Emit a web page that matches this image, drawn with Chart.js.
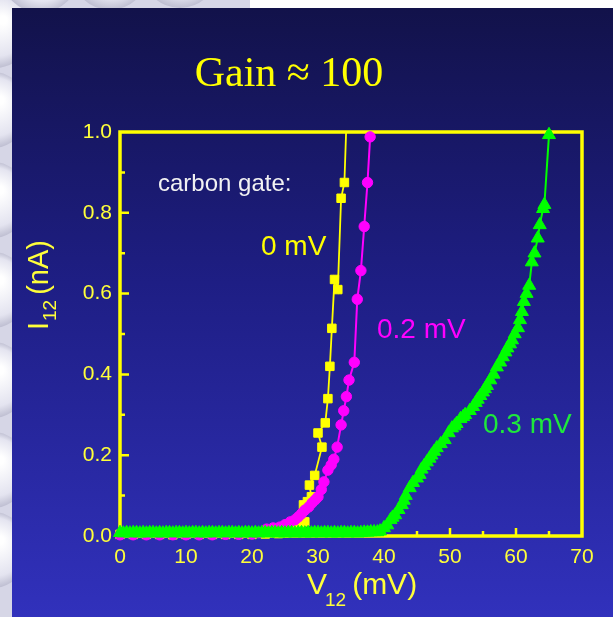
<!DOCTYPE html>
<html>
<head>
<meta charset="utf-8">
<script src="https://cdn.jsdelivr.net/npm/chart.js@4.4.0/dist/chart.umd.min.js"></script>
<style>
body { margin: 0; background: #fff; }
canvas { display: block; }
</style>
</head>
<body>
<canvas id="mycanvas" width="613" height="617"></canvas>
<script>
// tick labels
var xTicks = [0, 10, 20, 30, 40, 50, 60, 70];
var yTicks = [0.0, 0.2, 0.4, 0.6, 0.8, 1.0];
var seriesNames = ['0 mV', '0.2 mV', '0.3 mV'];

// 0 mV (yellow squares)
var v0X = [0, 2, 4, 6, 8, 10, 12, 14, 16, 18, 20, 22, 24, 25, 26, 26.8, 27.4, 28.0, 27.8, 28.4, 29.0, 28.7, 29.5, 30.6, 30.0, 31.1, 31.5, 31.8, 32.1, 32.5, 33.0, 33.5, 34.0, 34.3];
var v0Y = [0.004, 0.004, 0.004, 0.004, 0.003, 0.004, 0.004, 0.004, 0.004, 0.004, 0.004, 0.005, 0.006, 0.008, 0.010, 0.017, 0.024, 0.035, 0.077, 0.085, 0.097, 0.126, 0.150, 0.220, 0.255, 0.280, 0.340, 0.420, 0.514, 0.635, 0.610, 0.836, 0.875, 1.02];

// 0.2 mV (magenta circles)
var v02X = [0, 2, 4, 6, 8, 10, 12, 14, 16, 18, 20, 21, 22.2, 23.2, 24.2, 25.0, 25.8, 26.5, 27.0, 27.5, 28.0, 28.6, 29.1, 29.6, 30.0, 30.5, 30.9, 31.5, 32.0, 32.4, 32.9, 33.5, 33.9, 34.3, 34.7, 35.5, 35.95, 36.5, 37.0, 37.5, 37.9];
var v02Y = [0.003, 0.003, 0.003, 0.003, 0.003, 0.003, 0.003, 0.003, 0.004, 0.004, 0.005, 0.008, 0.017, 0.020, 0.022, 0.028, 0.035, 0.040, 0.047, 0.055, 0.064, 0.072, 0.082, 0.090, 0.097, 0.115, 0.134, 0.163, 0.176, 0.190, 0.220, 0.275, 0.310, 0.345, 0.386, 0.430, 0.586, 0.657, 0.766, 0.875, 0.988];

// 0.3 mV (green triangles)
var v03X = [0, 0.5, 1, 1.5, 2, 2.5, 3, 3.5, 4, 4.5, 5, 5.5, 6, 6.5, 7, 7.5, 8, 8.5, 9, 9.5, 10, 10.5, 11, 11.5, 12, 12.5, 13, 13.5, 14, 14.5, 15, 15.5, 16, 16.5, 17, 17.5, 18, 18.5, 19, 19.5, 20, 20.5, 21, 21.5, 22, 22.5, 23, 23.5, 24, 24.5, 25, 25.5, 26, 26.5, 27, 27.5, 28, 28.5, 29, 29.5, 30, 30.5, 31, 31.5, 32, 32.5, 33, 33.5, 34, 34.5, 35, 35.5, 36, 36.5, 37, 37.5, 38, 38.5, 39.0, 39.4, 40.0, 40.5, 41.0, 41.3, 41.7, 42.2, 42.7, 43.0, 43.3, 43.9, 44.4, 45.0, 45.4, 45.7, 46.1, 46.5, 46.9, 47.2, 47.6, 48.0, 48.6, 49.2, 49.8, 50.3, 50.7, 51.0, 51.6, 52.0, 52.3, 53.0, 53.5, 53.9, 54.2, 54.6, 55.0, 55.3, 55.6, 56.1, 56.6, 57.1, 57.6, 58.0, 58.4, 58.7, 59.1, 59.4, 59.8, 60.3, 60.6, 60.9, 61.2, 61.6, 62.0, 62.4, 62.8, 63.3, 63.6, 64.1, 64.3, 65.0];
var v03Y = [0.008, 0.007, 0.008, 0.007, 0.008, 0.008, 0.007, 0.008, 0.007, 0.008, 0.008, 0.007, 0.008, 0.007, 0.008, 0.008, 0.007, 0.008, 0.008, 0.007, 0.008, 0.007, 0.008, 0.008, 0.007, 0.008, 0.007, 0.008, 0.008, 0.007, 0.008, 0.008, 0.007, 0.008, 0.008, 0.007, 0.008, 0.007, 0.008, 0.008, 0.007, 0.008, 0.007, 0.008, 0.008, 0.007, 0.008, 0.008, 0.007, 0.008, 0.007, 0.008, 0.008, 0.007, 0.008, 0.008, 0.007, 0.008, 0.007, 0.008, 0.008, 0.007, 0.008, 0.008, 0.007, 0.008, 0.007, 0.008, 0.008, 0.007, 0.008, 0.008, 0.007, 0.008, 0.009, 0.009, 0.010, 0.010, 0.010, 0.012, 0.020, 0.027, 0.040, 0.046, 0.052, 0.065, 0.077, 0.088, 0.100, 0.119, 0.132, 0.143, 0.152, 0.165, 0.174, 0.183, 0.192, 0.200, 0.209, 0.218, 0.228, 0.238, 0.255, 0.267, 0.272, 0.278, 0.290, 0.295, 0.300, 0.310, 0.320, 0.330, 0.338, 0.347, 0.356, 0.364, 0.372, 0.386, 0.400, 0.418, 0.430, 0.443, 0.455, 0.465, 0.475, 0.485, 0.500, 0.515, 0.535, 0.555, 0.580, 0.600, 0.620, 0.678, 0.700, 0.737, 0.770, 0.810, 0.820, 0.993];

function pairs(xs, ys) {
  var out = [];
  for (var i = 0; i < xs.length; i++) out.push({x: xs[i], y: ys[i]});
  return out;
}

var YEL = '#ffff00', MAG = '#ff00ff', GRN = '#00ff00';
var LABEL = '#ffff3a';

var deco = {
  id: 'deco',
  beforeDraw: function(chart) {
    var ctx = chart.ctx;
    ctx.save();
    ctx.fillStyle = '#ffffff';
    ctx.fillRect(0, 0, 613, 617);
    // light bubbles strip on the left / top
    ctx.fillStyle = '#d6d6e6';
    ctx.fillRect(0, 0, 250, 9);
    ctx.fillRect(0, 0, 13, 617);
    var bubbles = [[-5, 30], [40, -25], [110, -28], [180, -30], [-8, 110], [-8, 200], [-8, 290], [-8, 380], [-8, 470], [-8, 550]];
    bubbles.forEach(function(b) {
      var g = ctx.createRadialGradient(b[0] + 8, b[1] - 10, 4, b[0], b[1], 40);
      g.addColorStop(0, '#ffffff');
      g.addColorStop(0.7, '#e4e4f0');
      g.addColorStop(1, '#b8b8cc');
      ctx.fillStyle = g;
      ctx.beginPath();
      ctx.arc(b[0], b[1], 38, 0, Math.PI * 2);
      ctx.fill();
    });
    // blue panel
    var bg = ctx.createLinearGradient(0, 8, 0, 617);
    bg.addColorStop(0, '#12124a');
    bg.addColorStop(0.45, '#1e1e84');
    bg.addColorStop(1, '#3131bc');
    ctx.fillStyle = bg;
    ctx.fillRect(12, 8, 601, 609);
    ctx.restore();
  },
  beforeDatasetsDraw: function(chart) {
    var ctx = chart.ctx, a = chart.chartArea;
    var xs = chart.scales.x, ys = chart.scales.y;
    ctx.save();
    ctx.strokeStyle = YEL;
    ctx.lineWidth = 3.5;
    ctx.strokeRect(a.left, a.top, a.right - a.left, a.bottom - a.top);
    ctx.lineWidth = 2.5;
    ctx.beginPath();
    for (var v = 5; v < 70; v += 5) {
      var px = xs.getPixelForValue(v);
      var len = (v % 10 === 0) ? 8 : 5;
      ctx.moveTo(px, a.bottom);
      ctx.lineTo(px, a.bottom - len);
    }
    for (var k = 1; k < 10; k++) {
      var py = ys.getPixelForValue(k / 10);
      var l2 = (k % 2 === 0) ? 9 : 5;
      ctx.moveTo(a.left, py);
      ctx.lineTo(a.left + l2, py);
    }
    ctx.stroke();
    ctx.restore();
  },
  afterDraw: function(chart) {
    var ctx = chart.ctx;
    ctx.save();
    ctx.textAlign = 'left';
    ctx.textBaseline = 'alphabetic';

    ctx.fillStyle = YEL;
    ctx.font = '42px "Liberation Serif"';
    ctx.textAlign = 'center';
    ctx.fillText('Gain \u2248 100', 289, 86);
    ctx.textAlign = 'left';

    ctx.fillStyle = '#f2f2f2';
    ctx.font = '24px "Liberation Sans"';
    ctx.fillText('carbon gate:', 158, 191);

    ctx.font = '28px "Liberation Sans"';
    ctx.fillStyle = YEL;
    ctx.fillText(seriesNames[0], 261, 255);
    ctx.fillStyle = MAG;
    ctx.fillText(seriesNames[1], 377, 338);
    ctx.fillStyle = '#1ee83c';
    ctx.fillText(seriesNames[2], 483, 433);

    // x axis title
    ctx.fillStyle = LABEL;
    ctx.font = '30px "Liberation Sans"';
    var x0 = 307;
    ctx.fillText('V', x0, 594);
    var wV = ctx.measureText('V').width;
    ctx.font = '19px "Liberation Sans"';
    ctx.fillText('12', x0 + wV - 2, 606);
    var w12 = ctx.measureText('12').width;
    ctx.font = '30px "Liberation Sans"';
    ctx.fillText('(mV)', x0 + wV + w12 + 4, 594);

    // y axis title
    ctx.translate(48, 330);
    ctx.rotate(-Math.PI / 2);
    ctx.font = '29px "Liberation Sans"';
    ctx.fillText('I', 0, 0);
    var wI = ctx.measureText('I').width;
    ctx.font = '19px "Liberation Sans"';
    ctx.fillText('12', wI + 1, 8);
    var w12b = ctx.measureText('12').width;
    ctx.font = '29px "Liberation Sans"';
    ctx.fillText('(nA)', wI + w12b + 6, 0);
    ctx.restore();
  }
};

var ctx = document.getElementById('mycanvas');
var tickFont = {family: 'Liberation Sans', size: 21};

var chart = new Chart(ctx, {
  type: 'scatter',
  data: {
    datasets: [
      {
        label: seriesNames[2], data: pairs(v03X, v03Y), showLine: true, order: 0,
        borderColor: GRN, backgroundColor: GRN, borderWidth: 2,
        pointStyle: 'triangle', pointRadius: 7.5, pointBorderWidth: 1,
        clip: {left: 10, right: 10, top: 10, bottom: 10}
      },
      {
        label: seriesNames[1], data: pairs(v02X, v02Y), showLine: true, order: 1,
        borderColor: MAG, backgroundColor: MAG, borderWidth: 2,
        pointStyle: 'circle', pointRadius: 5.2, pointBorderWidth: 1,
        clip: {left: 10, right: 10, top: 10, bottom: 10}
      },
      {
        label: seriesNames[0], data: pairs(v0X, v0Y), showLine: true, order: 2,
        borderColor: YEL, backgroundColor: YEL, borderWidth: 1.8,
        pointStyle: 'rect', pointRadius: 6, pointBorderWidth: 1,
        clip: {left: 10, right: 10, top: 0, bottom: 10}
      }
    ]
  },
  options: {
    responsive: false,
    animation: false,
    layout: {padding: {left: 0, top: 132, right: 31, bottom: 36}},
    plugins: {
      legend: {display: false},
      tooltip: {enabled: false},
      title: {display: false}
    },
    scales: {
      x: {
        type: 'linear', min: 0, max: 70,
        afterBuildTicks: function(s) { s.ticks = xTicks.map(function(v) { return {value: v}; }); },
        afterFit: function(s) { s.height = 45; },
        grid: {display: false, drawTicks: false},
        border: {display: false},
        ticks: {color: LABEL, font: tickFont, padding: 9, maxRotation: 0}
      },
      y: {
        type: 'linear', min: 0, max: 1,
        afterBuildTicks: function(s) { s.ticks = yTicks.map(function(v) { return {value: v}; }); },
        afterFit: function(s) { s.width = 120; },
        grid: {display: false, drawTicks: false},
        border: {display: false},
        ticks: {color: LABEL, font: tickFont, padding: 8, callback: function(v) { return Number(v).toFixed(1); }}
      }
    }
  },
  plugins: [deco]
});
</script>
</body>
</html>
